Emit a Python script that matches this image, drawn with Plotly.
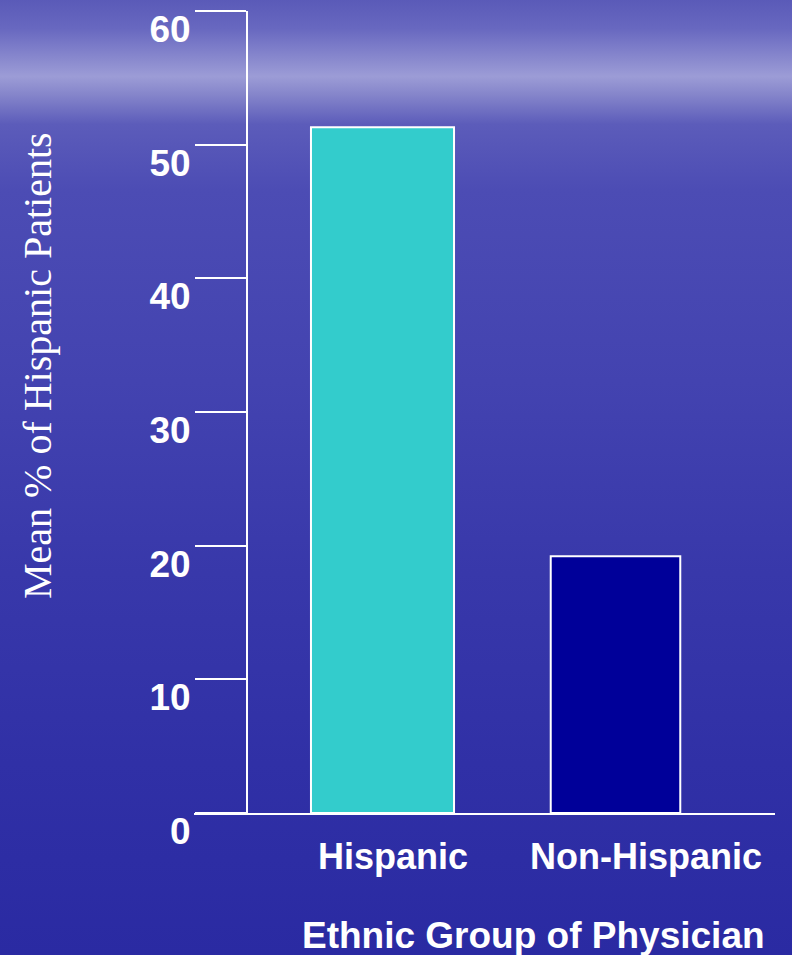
import base64
import plotly.graph_objects as go

# ---- data ----
categories = ["Hispanic", "Non-Hispanic"]
values = [51.3, 19.2]
y_ticks = [0, 10, 20, 30, 40, 50, 60]
x_title = "Ethnic Group of Physician"
y_title = "Mean % of Hispanic Patients"

# ---- style ----
bar_colors = ["#33CCCC", "#000099"]
bar_widths = [0.614, 0.556]
label_xshift = [10, 30]
W, H = 792, 955
ML, MR, MT, MB = 194, 17, 11, 142
PW, PH = W - ML - MR, H - MT - MB

stops = [
    (0.00, "#5a5ab8"), (0.03, "#6868c0"), (0.055, "#8282cb"), (0.08, "#9c9cd6"),
    (0.10, "#8484ca"), (0.13, "#5c5cba"), (0.20, "#4c4cb4"), (0.40, "#4343b0"),
    (0.60, "#3838aa"), (0.80, "#3030a6"), (1.00, "#2a2aa2"),
]
svg = ("<svg xmlns='http://www.w3.org/2000/svg' width='%d' height='%d' preserveAspectRatio='none'>"
       "<defs><linearGradient id='g' x1='0' y1='0' x2='0' y2='1'>%s</linearGradient></defs>"
       "<rect width='%d' height='%d' fill='url(#g)'/></svg>") % (
    W, H, "".join("<stop offset='%g' stop-color='%s'/>" % s for s in stops), W, H)
bg = "data:image/svg+xml;base64," + base64.b64encode(svg.encode()).decode()

xpos = list(range(len(categories)))

fig = go.Figure()
fig.add_trace(go.Bar(
    x=xpos, y=values, width=bar_widths,
    marker=dict(color=bar_colors, line=dict(color="white", width=2)),
    hoverinfo="skip", showlegend=False,
))

annotations = []
for xi, cat, sh in zip(xpos, categories, label_xshift):
    annotations.append(dict(
        x=xi, y=0, xref="x", yref="paper", text=cat, showarrow=False,
        xanchor="center", yanchor="middle", xshift=sh, yshift=-43,
        font=dict(family="Liberation Sans, Arial", size=36, color="white", weight="bold"),
    ))
annotations.append(dict(
    x=(533 - ML) / PW, y=0, xref="paper", yref="paper", text=x_title, showarrow=False,
    xanchor="center", yanchor="middle", yshift=-122,
    font=dict(family="Liberation Sans, Arial", size=37, color="white", weight="bold"),
))
annotations.append(dict(
    x=(37 - ML) / PW, y=(H - MB - 366) / PH, xref="paper", yref="paper", text=y_title,
    showarrow=False, textangle=-90, xanchor="center", yanchor="middle",
    font=dict(family="Liberation Serif, Times New Roman", size=40, color="white"),
))

fig.update_layout(
    width=W, height=H,
    margin=dict(l=ML, r=MR, t=MT, b=MB, pad=0, autoexpand=False),
    paper_bgcolor="#3c3cac", plot_bgcolor="rgba(0,0,0,0)",
    showlegend=False,
    xaxis=dict(range=[-188.5 / 233, (PW - 188.5) / 233], showticklabels=False, ticks="",
               showgrid=False, zeroline=False, showline=True, linecolor="white", linewidth=2,
               fixedrange=True, automargin=False),
    yaxis=dict(range=[0, 60], tickvals=y_ticks, anchor="free", position=(247 - ML) / PW,
               showgrid=False, zeroline=False, showline=True, linecolor="white", linewidth=2,
               ticks="outside", ticklen=51, tickwidth=2, tickcolor="white",
               ticklabelstandoff=-3, ticklabelshift=18, automargin=False,
               tickfont=dict(family="Liberation Sans, Arial", size=37, color="white", weight="bold"),
               fixedrange=True),
    images=[dict(source=bg, xref="paper", yref="paper", x=-ML / PW, y=1 + MT / PH,
                 sizex=W / PW, sizey=H / PH, sizing="stretch", layer="below",
                 xanchor="left", yanchor="top")],
    annotations=annotations,
)

fig.write_html("out.html")
